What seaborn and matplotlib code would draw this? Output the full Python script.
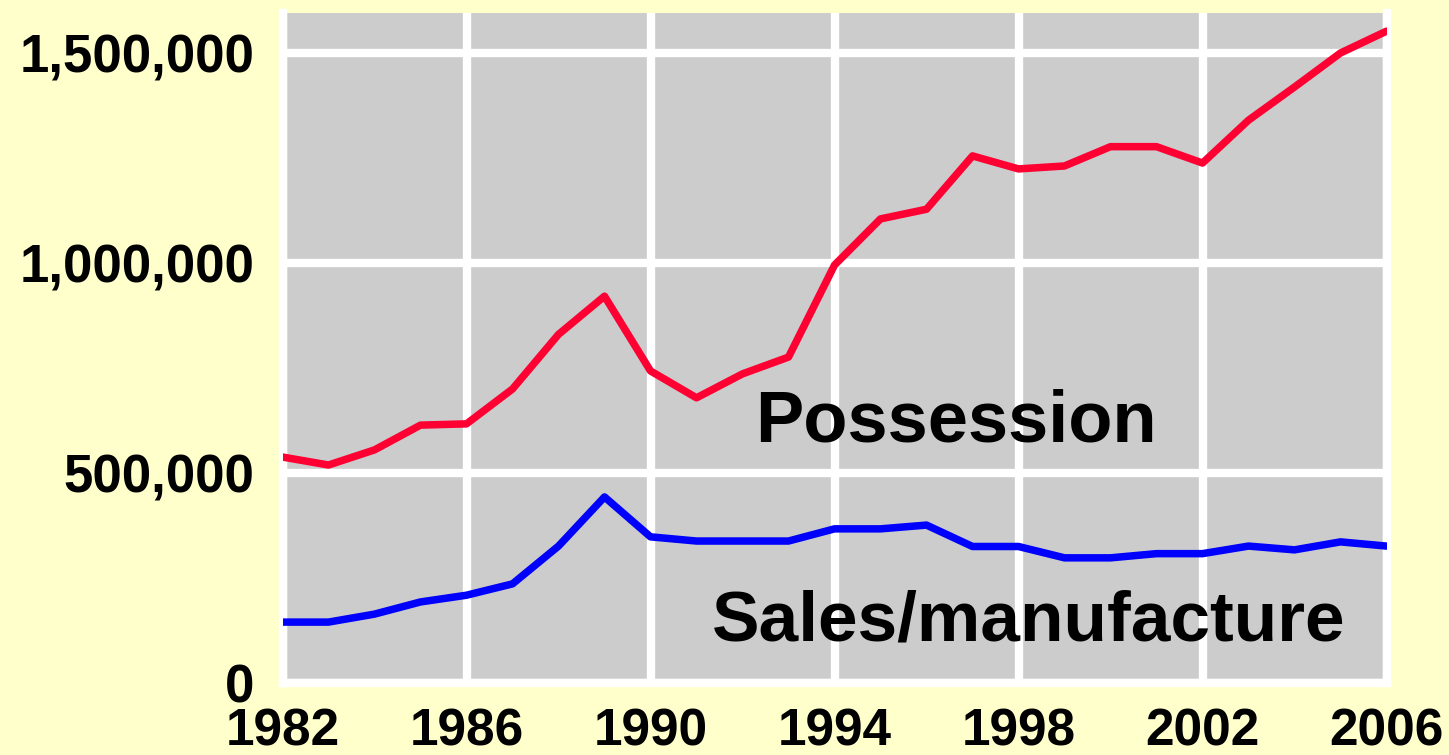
import matplotlib
matplotlib.use("Agg")
import matplotlib.pyplot as plt
import numpy as np
import pandas as pd
import seaborn as sns
from matplotlib.ticker import FuncFormatter

years = list(range(1982, 2007))
possession = [538000, 519000, 555000, 614000, 617000, 700000, 830000, 921000,
              743000, 679000, 736000, 776000, 995000, 1105000, 1128000, 1255000,
              1224000, 1231000, 1277000, 1277000, 1238000, 1340000, 1419000,
              1500000, 1552000]
sales = [145000, 145000, 164000, 193000, 209000, 236000, 326000, 443000,
         348000, 338000, 338000, 338000, 367000, 367000, 376000, 325000,
         325000, 298000, 298000, 308000, 308000, 326000, 317000, 336000, 326000]
series_names = ["Possession", "Sales/manufacture"]
x_ticks = [1982, 1986, 1990, 1994, 1998, 2002, 2006]
y_ticks = [0, 500000, 1000000, 1500000]

df = pd.DataFrame({
    "year": years * 2,
    "value": possession + sales,
    "series": [series_names[0]] * len(years) + [series_names[1]] * len(years),
})

sns.set_style("white")
plt.rcParams["font.family"] = ["Liberation Sans", "DejaVu Sans"]

W, H = 1449, 755
fig = plt.figure(figsize=(W / 100, H / 100), dpi=100, facecolor="#FFFFCC")
left, right, bottom, top = 282.5, 1386.5, 683, 13
ax = fig.add_axes([left / W, 1 - bottom / H, (right - left) / W, (bottom - top) / H])
ax.set_facecolor("#CCCCCC")

sns.lineplot(data=df, x="year", y="value", hue="series",
             palette={"Possession": "#FF0033", "Sales/manufacture": "#0000FF"},
             linewidth=5.4, legend=False, ax=ax, zorder=3)

ax.set_xlim(1982, 2006)
ax.set_ylim(0, (bottom - top) * 500000 / 210)
ax.set_xticks(x_ticks)
ax.set_yticks(y_ticks)
ax.yaxis.set_major_formatter(FuncFormatter(lambda v, p: f"{int(v):,}"))
ax.set_xlabel("")
ax.set_ylabel("")
ax.set_axisbelow(True)
ax.grid(True, color="white", linewidth=6)

for s in ["left", "bottom", "right"]:
    ax.spines[s].set_visible(True)
    ax.spines[s].set_color("white")
    ax.spines[s].set_linewidth(6)
ax.spines["top"].set_visible(False)

ax.tick_params(axis="x", length=5, width=5, color="white", pad=13,
               labelsize=37, labelcolor="black")
ax.tick_params(axis="y", length=0, pad=20, labelsize=38, labelcolor="black")
for lab in ax.get_xticklabels() + ax.get_yticklabels():
    lab.set_fontweight("bold")

ax.text(1992.27, 576000, series_names[0], fontsize=52, fontweight="bold",
        ha="left", va="baseline", color="black", zorder=4)
ax.text(1991.34, 100000, series_names[1], fontsize=51.3, fontweight="bold",
        ha="left", va="baseline", color="black", zorder=4)

fig.savefig("out.png", dpi=100, facecolor=fig.get_facecolor())
